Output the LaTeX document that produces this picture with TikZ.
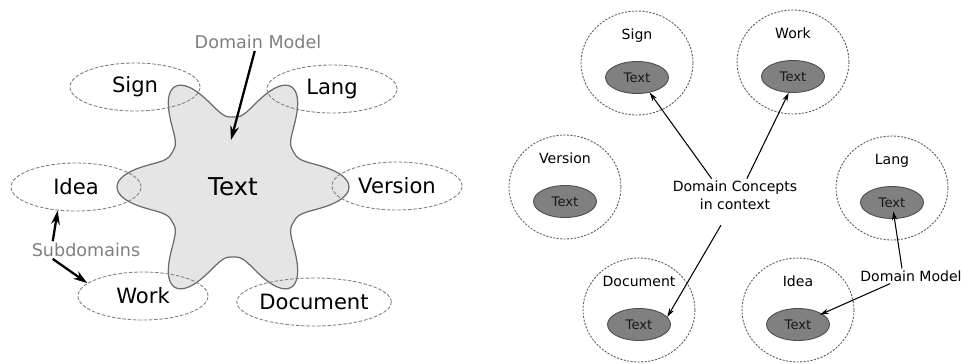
\documentclass[tikz,border=0pt]{standalone}
\usepackage{fontspec}
\setmainfont{DejaVu Sans}
\usetikzlibrary{positioning,arrows.meta,shapes.geometric}

\begin{document}
\begin{tikzpicture}[
    x=0.02cm, y=-0.02cm,
    core/.style={draw=black!58, fill=black!10, line width=0.7pt},
    subdomain/.style={ellipse, draw=black!50, dash pattern=on 2pt off 1pt, line width=0.5pt, minimum width=2.6cm, minimum height=0.96cm, inner sep=0pt, font=\fontsize{12}{14}\selectfont},
    hint/.style={text=black!50, font=\fontsize{10}{12}\selectfont, inner sep=1pt},
    bigarrow/.style={-{Stealth[length=8pt,width=5pt]}, line width=1.3pt},
    context/.style={ellipse, draw=black!65, dash pattern=on 1.2pt off 0.8pt, line width=0.5pt, minimum width=2.24cm, minimum height=2.08cm, inner sep=0pt},
    concept/.style={ellipse, draw=black!70, fill=black!50, line width=0.5pt, minimum width=1.26cm, minimum height=0.64cm, inner sep=0pt, text=black!90, font=\fontsize{7.5}{9}\selectfont},
    ctxname/.style={inner sep=0pt, text height=6pt, text depth=1.6pt, font=\fontsize{8}{10}\selectfont},
    note/.style={align=center, inner sep=1pt, font=\fontsize{8}{10}\selectfont},
    arrow/.style={-{Stealth[length=5pt,width=3pt]}, line width=0.6pt}
]
\useasboundingbox (0,0) rectangle (963,363);

% ============== LEFT: ONE MODEL SPANNING ALL SUBDOMAINS ==============
\draw[core, shift={(233,187)}]
    plot[domain=0:360, samples=241] (\x:{70+46*((1+cos(6*\x))/2)^1.5}) -- cycle;

\node[font=\fontsize{14}{16}\selectfont] (textCore) at (233,187) {Text};

\node[subdomain] (signSub) at (135,87) {Sign};
\node[subdomain] (langSub) at (332,89) {Lang};
\node[subdomain] (ideaSub) at (76,187) {Idea};
\node[subdomain] (versionSub) at (397,186) {Version};
\node[subdomain] (workSub) at (143,296) {Work};
\node[subdomain] (docSub) at (314,302) {Document};

\node[hint] (modelLeft) at (258,42) {Domain Model};
\node[hint] (subLabel) at (86,250) {Subdomains};
\coordinate (modelTip) at (231,140);

% Domain Model -> shared model
\draw[bigarrow] (modelLeft.250) -- (modelTip);

% Subdomains -> Idea, Work
\draw[bigarrow] (subLabel.165) -- (ideaSub.232);
\draw[bigarrow] (subLabel.195) -- (workSub.167);

% ============== RIGHT: ONE MODEL PER CONTEXT ==============
\node[context] (signCtx) at (637,63) {};
\node[concept] (signTxt) at ([yshift=-0.29cm]signCtx.center) {Text};
\node[ctxname, above=0.36cm of signTxt] (signName) {Sign};

\node[context] (workCtx) at (793,62) {};
\node[concept] (workTxt) at ([yshift=-0.29cm]workCtx.center) {Text};
\node[ctxname, above=0.36cm of workTxt] (workName) {Work};

\node[context] (versionCtx) at (565,187) {};
\node[concept] (versionTxt) at ([yshift=-0.29cm]versionCtx.center) {Text};
\node[ctxname, above=0.36cm of versionTxt] (versionName) {Version};

\node[context] (langCtx) at (892,188) {};
\node[concept] (langTxt) at ([yshift=-0.29cm]langCtx.center) {Text};
\node[ctxname, above=0.36cm of langTxt] (langName) {Lang};

\node[context] (docCtx) at (639,310) {};
\node[concept] (docTxt) at ([yshift=-0.29cm]docCtx.center) {Text};
\node[ctxname, above=0.36cm of docTxt] (docName) {Document};

\node[context] (ideaCtx) at (798,310) {};
\node[concept] (ideaTxt) at ([yshift=-0.29cm]ideaCtx.center) {Text};
\node[ctxname, above=0.36cm of ideaTxt] (ideaName) {Idea};

\node[note] (concepts) at (735,195) {Domain Concepts\\in context};
\node[note] (modelRight) at (911,276) {Domain Model};

% Domain Concepts -> Sign, Work, Document
\draw[arrow] (concepts.145) -- (signTxt.310);
\draw[arrow] (concepts.54) -- (workTxt.255);
\draw[arrow, shorten <=0.32cm] (concepts.250) -- (docTxt.15);

% Domain Model -> Lang, Idea
\draw[arrow, shorten >=0.18cm] (modelRight.140) -- (langTxt.center);
\draw[arrow, shorten >=0.48cm] (modelRight.200) -- (ideaTxt.center);

\end{tikzpicture}
\end{document}
